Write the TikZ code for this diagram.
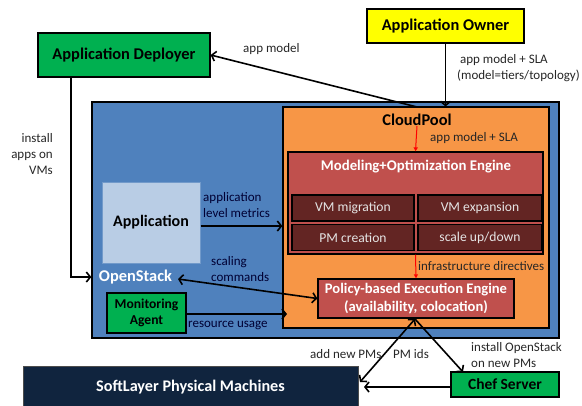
\documentclass[tikz,border=0pt]{standalone}
\usepackage{fontspec}
\setmainfont{Carlito}
\usetikzlibrary{arrows.meta}
\definecolor{cblue}{HTML}{4F81BD}
\definecolor{corange}{HTML}{F79646}
\definecolor{cred}{HTML}{C0504D}
\definecolor{cdark}{HTML}{632523}
\definecolor{cgreen}{HTML}{00B050}
\definecolor{cyellow}{HTML}{FFFF00}
\definecolor{clight}{HTML}{B9CDE5}
\definecolor{cnavy}{HTML}{10243E}
\tikzset{
  box/.style={draw=black, line width=1.3pt, inner sep=0pt, align=center},
  lbl/.style={inner sep=0pt, align=left, font=\fontsize{13}{16}\selectfont, text=black!85},
  bigb/.style={font=\fontsize{16.4}{18}\selectfont\bfseries},
  midb/.style={font=\fontsize{14.8}{17}\selectfont\bfseries},
  arr/.style={line width=1.6pt, -{Straight Barb[length=4pt,width=10pt]}},
  darr/.style={line width=1.6pt, {Straight Barb[length=4pt,width=10pt]}-{Straight Barb[length=4pt,width=10pt]}},
  rarr/.style={draw=red, line width=1pt, -{Triangle[length=4pt,width=4pt]}},
}
\begin{document}
\begin{tikzpicture}[x=1pt,y=-1pt]
\useasboundingbox (0,0) rectangle (582,405);
\begin{scope}
\clip (0,0) rectangle (582,405);
% boxes
\node[box, fill=cgreen, minimum width=172pt, minimum height=44pt, bigb] (dep) at (124,55) {Application Deployer};
\node[box, fill=cyellow, minimum width=157pt, minimum height=34pt, bigb] (own) at (445.5,26) {Application Owner};
\node[box, fill=cblue, minimum width=467pt, minimum height=236pt] (os) at (325.5,220) {};
\node[box, fill=corange, minimum width=266pt, minimum height=221pt] (cp) at (416,217.5) {};
\node[inner sep=0pt, bigb] (cptxt) at (417,120) {CloudPool};
\node[box, fill=cred, minimum width=255pt, minimum height=102pt] (moe) at (415.5,203) {};
\node[inner sep=0pt, midb, text=white] (moetxt) at (416,167) {Modeling+Optimization Engine};
\tikzset{inner/.style={box, fill=cdark, text=white!90!black, font=\fontsize{13.6}{15}\selectfont, minimum height=26pt}}
\node[inner, minimum width=122pt] (vmm) at (353,208) {VM migration};
\node[inner, minimum width=124pt] (vme) at (480,208) {VM expansion};
\node[inner, minimum width=122pt] (pmc) at (353,237.5) {PM creation};
\node[inner, minimum width=124pt] (sud) at (480,237.5) {scale up/down};
\node[box, fill=cred, minimum width=196pt, minimum height=39pt, text=white, font=\fontsize{14.6}{18}\selectfont\bfseries] (pee) at (416,298.5) {Policy-based Execution Engine\\(availability, colocation)};
\node[draw=cblue!80!white, line width=1pt, fill=clight, minimum width=98pt, minimum height=81pt, inner sep=0pt, font=\fontsize{16}{18}\selectfont\bfseries] (app) at (151,222.5) {Application};
\node[inner sep=0pt, bigb, text=white] (ostxt) at (135.5,277) {OpenStack};
\node[box, fill=cgreen, minimum width=79pt, minimum height=40pt, font=\fontsize{13.6}{16.5}\selectfont\bfseries] (mon) at (146.5,313) {Monitoring\\Agent};
\node[draw=black!70, line width=1pt, fill=cnavy, minimum width=335pt, minimum height=46pt, inner sep=0pt] (sl) at (190.5,389) {};
\node[inner sep=0pt, text=white, font=\fontsize{16.2}{18}\selectfont\bfseries] (sltxt) at (190.5,387) {SoftLayer Physical Machines};
\node[box, fill=cgreen, minimum width=108pt, minimum height=25pt, font=\fontsize{15.5}{17}\selectfont\bfseries] (chef) at (505,384.5) {Chef Server};
\end{scope}
% coordinates
\coordinate (owntip) at (own.south |- cp.north);
\coordinate (cpdep) at (417,107);
\coordinate (depcorner) at (71,277);
\coordinate (depbot) at (71,77);
\coordinate (osleft) at (os.west |- depcorner);
\coordinate (appr) at (app.east |- 0,226);
\coordinate (appt) at (cp.west |- 0,226);
\coordinate (mont) at (287,314);
\coordinate (monr) at (mon.east |- mont);
\coordinate (ose) at (178,279);
\coordinate (peeb) at (415,319);
\coordinate (slr) at (360,382);
\coordinate (slr2) at (364,387);
\coordinate (chefl) at (chef.west |- slr2);
\coordinate (cheft) at (463,372);
% arrows
\draw[arr] (own.south) -- (owntip);
\draw[arr] (cpdep) -- (dep.east);
\draw[arr] (depbot) -- (depcorner) -- (osleft);
\draw[arr] (appr) -- (appt);
\draw[darr] (ose) -- (pee.west);
\draw[arr] (monr) -- (mont);
\draw[rarr] (cptxt.south) -- (moe.north);
\draw[rarr] (moe.south) -- (pee.north);
\draw[darr] (peeb) -- (slr);
\draw[arr] (peeb) -- (cheft);
\draw[arr] (chefl) -- (slr2);
% labels
\node[lbl, anchor=west] (l1) at (243,49) {app model};
\node[lbl, anchor=west] (l2) at (457,68) {\ app model + SLA\\(model=tiers/topology)};
\node[lbl, anchor=west] (l3) at (430,138) {app model + SLA};
\node[lbl, anchor=east, align=right] (l4) at (53,154) {install\\apps on\\VMs};
\node[lbl, anchor=west, text=black!80!blue] (l5) at (203,205) {application\\level metrics};
\node[lbl, anchor=west, text=black!80!blue] (l6) at (211,269) {scaling\\commands};
\node[lbl, anchor=west, text=black!80!blue] (l7) at (188,325) {resource usage};
\node[lbl, anchor=west] (l8) at (418,266) {infrastructure directives};
\node[lbl, anchor=west] (l9) at (310,354) {add new PMs};
\node[lbl, anchor=west] (l10) at (393,354) {PM ids};
\node[lbl, anchor=west] (l11) at (471,355) {install OpenStack\\on new PMs};
\end{tikzpicture}
\end{document}
